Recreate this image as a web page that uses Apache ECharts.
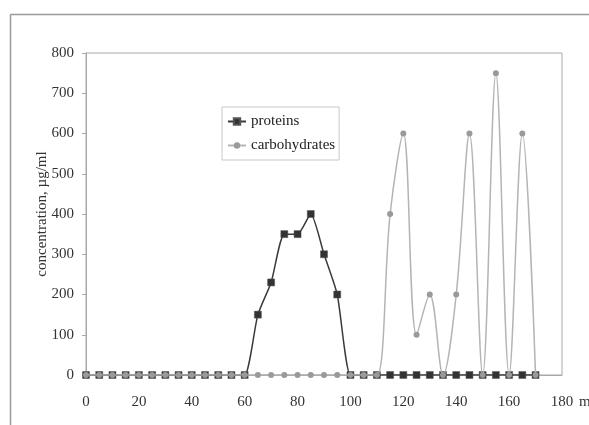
<!DOCTYPE html>
<html>
<head>
<meta charset="utf-8">
<script src="https://cdn.jsdelivr.net/npm/echarts@6/dist/echarts.min.js"></script>
<style>html,body{margin:0;padding:0;background:#fff;}#c{width:589px;height:425px;}</style>
</head>
<body>
<div id="c"></div>
<script>
const xValues = [0,5,10,15,20,25,30,35,40,45,50,55,60,65,70,75,80,85,90,95,100,105,110,115,120,125,130,135,140,145,150,155,160,165,170];
const proteins = [0,0,0,0,0,0,0,0,0,0,0,0,0,150,230,350,350,400,300,200,0,0,0,0,0,0,0,0,0,0,0,0,0,0,0];
const carbohydrates = [0,0,0,0,0,0,0,0,0,0,0,0,0,0,0,0,0,0,0,0,0,0,0,400,600,100,200,0,200,600,0,750,0,600,0];
const xTicks = [0,20,40,60,80,100,120,140,160,180];
const yTicks = [0,100,200,300,400,500,600,700,800];

const chart = echarts.init(document.getElementById('c'), null, {renderer:'canvas'});
const font = 'Liberation Serif';
chart.setOption({
  animation:false,
  backgroundColor:'#fff',
  graphic:[
    {type:'line', shape:{x1:10.5,y1:14.5,x2:589,y2:14.5}, style:{stroke:'#9a9a9a',lineWidth:1.5}},
    {type:'line', shape:{x1:10.5,y1:14.5,x2:10.5,y2:425}, style:{stroke:'#9a9a9a',lineWidth:1.5}}
  ],
  grid:{left:86,right:27,top:53,bottom:50,show:true,borderColor:'#a8a8a8',borderWidth:1,
        containLabel:false, outerBoundsMode:'none'},
  legend:{
    left:222, top:107, orient:'vertical', itemGap:9,
    backgroundColor:'#fff', borderColor:'#c8c8c8', borderWidth:1,
    padding:[7,4,7,5], itemWidth:18, itemHeight:8,
    textStyle:{fontFamily:font,fontSize:15,color:'#222'},
    data:['proteins','carbohydrates']
  },
  xAxis:{
    type:'value', min:0, max:180, interval:20,
    name:'m', nameLocation:'end', nameGap:17, nameMoveOverlap:false,
    nameTextStyle:{fontFamily:font,fontSize:15,color:'#333',align:'left',verticalAlign:'top',padding:[20,0,0,0]},
    axisLine:{show:true,lineStyle:{color:'#a8a8a8'}},
    axisTick:{show:false},
    splitLine:{show:false},
    axisLabel:{fontFamily:font,fontSize:15,color:'#333',margin:20,
      formatter:v=>xTicks.includes(v)?String(v):''}
  },
  yAxis:{
    type:'value', min:0, max:800, interval:100,
    name:'concentration, µg/ml', nameLocation:'middle', nameGap:36, nameRotate:90, nameMoveOverlap:false,
    nameTextStyle:{fontFamily:font,fontSize:15,color:'#333'},
    axisLine:{show:true,lineStyle:{color:'#a8a8a8'}},
    axisTick:{show:true,inside:false,length:4,lineStyle:{color:'#a8a8a8'}},
    splitLine:{show:false},
    axisLabel:{fontFamily:font,fontSize:15,color:'#333',margin:12,
      formatter:v=>yTicks.includes(v)?String(v):''}
  },
  series:[
    {
      name:'proteins', type:'line', smooth:0.2, z:2,
      data:xValues.map((x,i)=>[x,proteins[i]]),
      symbol:'rect', symbolSize:7,
      lineStyle:{color:'#3a3a3a',width:1.5},
      itemStyle:{color:'#333',borderColor:'#555',borderWidth:0.5}
    },
    {
      name:'carbohydrates', type:'line', smooth:0.35, z:3,
      data:xValues.map((x,i)=>[x,carbohydrates[i]]),
      symbol:'circle', symbolSize:6,
      lineStyle:{color:'#b4b4b4',width:1.5},
      itemStyle:{color:'#9a9a9a',borderColor:'#9a9a9a',borderWidth:0}
    }
  ]
});
</script>
</body>
</html>
